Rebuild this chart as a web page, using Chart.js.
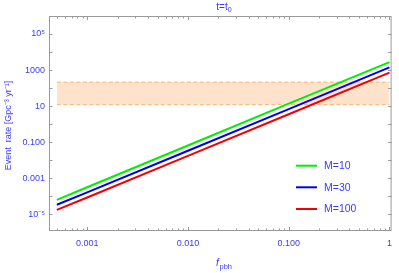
<!DOCTYPE html>
<html>
<head>
<meta charset="utf-8">
<script src="https://cdn.jsdelivr.net/npm/chart.js@4"></script>
<style>
  html, body { margin: 0; padding: 0; background: #fff; }
  #wrap { width: 399px; height: 273px; }
</style>
</head>
<body>
<div id="wrap"><canvas id="c" width="399" height="273"></canvas></div>
<script>
// ── data ───────────────────────────────────────────────
const fpbh = [0.0005, 0.001, 0.01, 0.1, 1];
const rateM10 = [6.2e-5, 3.1e-4, 0.064, 13.5, 2750];
const rateM30 = [3.3e-5, 1.6e-4, 0.033, 6.8, 1400];
const rateM100 = [1.7e-5, 8.3e-5, 0.017, 3.5, 720];
const seriesNames = ["M=10", "M=30", "M=100"];
const bandX = [0.0005, 1];
const bandLow = [12, 12];
const bandHigh = [213, 213];
const xTickVals = [0.001, 0.01, 0.1, 1];
const xTickLabels = ["0.001", "0.010", "0.100", "1"];
const yTickVals = [1e-5, 1e-3, 1e-1, 1e1, 1e3, 1e5];
const yTickLabels = ["10⁻⁵", "0.001", "0.100", "10", "1000", "10⁵"];

const TXT = "#3a3aff";
const FRAME = "#9a9a9a";
const FONT = "'Liberation Sans', Arial, sans-serif";

function pts(xs, ys) {
  return xs.map((x, i) => ({ x: x, y: ys[i] }));
}

// frame, inward ticks, titles, legend
const decor = {
  id: "decor",
  afterDraw(chart) {
    const { ctx, chartArea: a, scales } = chart;
    const xs = scales.x, ys = scales.y;
    ctx.save();
    ctx.strokeStyle = FRAME;
    ctx.lineWidth = 1;
    ctx.strokeRect(a.left + 0.5, a.top + 0.5, a.right - a.left - 1, a.bottom - a.top - 1);
    ctx.beginPath();
    for (let d = -4; d <= 0; d++) {
      for (let k = 1; k <= 9; k++) {
        const v = k * Math.pow(10, d);
        if (v < xs.min || v > xs.max) continue;
        const px = Math.round(xs.getPixelForValue(v)) + 0.5;
        const len = k === 1 ? 4 : 2.5;
        ctx.moveTo(px, a.bottom);
        ctx.lineTo(px, a.bottom - len);
        ctx.moveTo(px, a.top);
        ctx.lineTo(px, a.top + len);
      }
    }
    for (let d = -5; d <= 5; d++) {
      const py = Math.round(ys.getPixelForValue(Math.pow(10, d))) + 0.5;
      ctx.moveTo(a.left, py);
      ctx.lineTo(a.left + 3.5, py);
      ctx.moveTo(a.right, py);
      ctx.lineTo(a.right - 3.5, py);
    }
    ctx.stroke();

    // title t=t0
    ctx.fillStyle = TXT;
    ctx.textBaseline = "alphabetic";
    ctx.font = "10px " + FONT;
    ctx.textAlign = "left";
    const tw = ctx.measureText("t=t").width;
    const tx = 222 - tw / 2;
    ctx.fillText("t=t", tx, 10);
    ctx.font = "7px " + FONT;
    ctx.fillText("0", tx + tw, 12);

    // y title
    ctx.save();
    ctx.translate(11, 125.5);
    ctx.rotate(-Math.PI / 2);
    ctx.font = "9px " + FONT;
    ctx.textAlign = "center";
    ctx.fillText("Event  rate [Gpc⁻³ yr⁻¹]", 0, 0);
    ctx.restore();

    // x title f_pbh
    ctx.font = "italic 10px " + FONT;
    ctx.fillText("f", 216, 266);
    ctx.font = "7.5px " + FONT;
    ctx.fillText("pbh", 219.5, 269);

    // legend
    ctx.font = "10.5px " + FONT;
    ctx.textBaseline = "middle";
    const rows = [165.7, 187.3, 209];
    chart.data.datasets.slice(2).forEach((ds, i) => {
      ctx.strokeStyle = ds.borderColor;
      ctx.lineWidth = 2;
      ctx.beginPath();
      ctx.moveTo(296, rows[i]);
      ctx.lineTo(317, rows[i]);
      ctx.stroke();
      ctx.fillStyle = TXT;
      ctx.fillText(ds.label, 324, rows[i] + 0.5);
    });
    ctx.restore();
  },
};

const bandStyle = {
  borderColor: "#ffb46a",
  borderWidth: 1,
  borderDash: [4, 2.5],
  pointRadius: 0,
  order: 10,
};

new Chart(document.getElementById("c"), {
  type: "line",
  data: {
    datasets: [
      { label: "band low", data: pts(bandX, bandLow), ...bandStyle, fill: false },
      { label: "band high", data: pts(bandX, bandHigh), ...bandStyle, fill: "-1", backgroundColor: "#fde3cb" },
      { label: seriesNames[0], data: pts(fpbh, rateM10), borderColor: "#00ee00", borderWidth: 2, pointRadius: 0, fill: false, order: 1 },
      { label: seriesNames[1], data: pts(fpbh, rateM30), borderColor: "#0000f0", borderWidth: 2, pointRadius: 0, fill: false, order: 1 },
      { label: seriesNames[2], data: pts(fpbh, rateM100), borderColor: "#f00000", borderWidth: 2, pointRadius: 0, fill: false, order: 1 },
    ],
  },
  options: {
    responsive: false,
    animation: false,
    layout: { padding: { top: 16, right: 6, left: 0, bottom: 0 } },
    plugins: { legend: { display: false }, tooltip: { enabled: false }, filler: { drawTime: "beforeDatasetsDraw" } },
    scales: {
      x: {
        type: "logarithmic",
        min: 4.18e-4,
        max: 1.05,
        grid: { display: false, drawTicks: false },
        border: { display: false },
        afterBuildTicks: (s) => { s.ticks = xTickVals.map((v) => ({ value: v })); },
        afterFit: (s) => { s.height = 42; },
        ticks: {
          color: TXT,
          font: { family: FONT, size: 9 },
          padding: 7,
          maxRotation: 0,
          autoSkip: false,
          callback: (v) => xTickLabels[xTickVals.indexOf(v)],
        },
      },
      y: {
        type: "logarithmic",
        min: 1.15e-6,
        max: 1e6,
        grid: { display: false, drawTicks: false },
        border: { display: false },
        afterBuildTicks: (s) => { s.ticks = yTickVals.map((v) => ({ value: v })); },
        afterFit: (s) => { s.width = 49; },
        ticks: {
          color: TXT,
          font: { family: FONT, size: 9 },
          padding: 4,
          autoSkip: false,
          callback: (v) => yTickLabels[yTickVals.indexOf(v)],
        },
      },
    },
  },
  plugins: [decor],
});
</script>
</body>
</html>
